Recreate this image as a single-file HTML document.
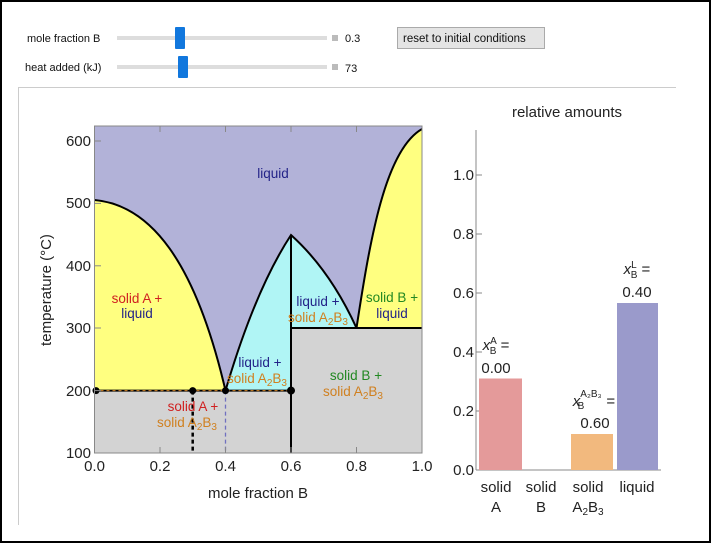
<!DOCTYPE html>
<html><head><style>
body{margin:0;background:#fff;}
svg text{font-family:"Liberation Sans",sans-serif;}
</style></head><body>
<svg width="711" height="543" xmlns="http://www.w3.org/2000/svg">
<rect x="1" y="1" width="709" height="541" fill="#fff" stroke="#000" stroke-width="2"/>
<text x="27" y="42" font-size="11" fill="#111">mole fraction B</text>
<rect x="117" y="36" width="210" height="4" fill="#ddd"/>
<rect x="175" y="27" width="10" height="22" fill="#1177dd" rx="1"/>
<rect x="332" y="35" width="6" height="6" fill="#bbb"/>
<text x="345" y="42" font-size="11" fill="#111">0.3</text>
<text x="25" y="71" font-size="11" fill="#111">heat added (kJ)</text>
<rect x="117" y="65" width="210" height="4" fill="#ddd"/>
<rect x="178" y="56" width="10" height="22" fill="#1177dd" rx="1"/>
<rect x="332" y="64" width="6" height="6" fill="#bbb"/>
<text x="345" y="72" font-size="11" fill="#111">73</text>
<rect x="397.5" y="27.5" width="147" height="21" fill="#e4e4e4" stroke="#aaa"/>
<text x="403" y="42" font-size="11.5" fill="#111">reset to initial conditions</text>
<path d="M18.5 525 V87.5 H676" fill="none" stroke="#ccc"/>
<g>
<rect x="94.5" y="126" width="327.5" height="327" fill="#b2b2d8"/>
<rect x="94.5" y="390.6" width="196.5" height="62.4" fill="#d3d3d3"/>
<rect x="291" y="328" width="131" height="125" fill="#d3d3d3"/>
<path d="M94.5 200 C150 205 195 260 225.5 390.6 H94.5 Z" fill="#ffff80"/>
<path d="M94.5 200 C150 205 195 260 225.5 390.6" fill="none" stroke="#000" stroke-width="2"/>
<path d="M225.5 390.6 Q255 290 291 235 V390.6 Z" fill="#b0f5f5"/>
<path d="M291 235 Q330 270 356.5 328 H291 Z" fill="#b0f5f5"/>
<path d="M225.5 390.6 Q255 290 291 235 Q330 270 356.5 328" fill="none" stroke="#000" stroke-width="2"/>
<path d="M356.5 328 C370 240 385 150 422 129 V328 Z" fill="#ffff80"/>
<path d="M356.5 328 C370 240 385 150 422 129" fill="none" stroke="#000" stroke-width="2"/>
<line x1="291" y1="235" x2="291" y2="453" stroke="#000" stroke-width="2"/>
<line x1="291" y1="328" x2="422" y2="328" stroke="#000" stroke-width="2"/>
<line x1="94.5" y1="390.6" x2="291" y2="390.6" stroke="#000" stroke-width="2"/>
<line x1="94.5" y1="390.6" x2="291" y2="390.6" stroke="#d08020" stroke-width="1" stroke-dasharray="3,3"/>
<line x1="192.7" y1="390.6" x2="192.7" y2="453" stroke="#000" stroke-width="2.5" stroke-dasharray="4,3"/>
<line x1="225.5" y1="390.6" x2="225.5" y2="453" stroke="#7070c0" stroke-width="1.3" stroke-dasharray="4,3"/>
<circle cx="96" cy="390.6" r="3.5"/><circle cx="192.7" cy="390.6" r="3.5"/><circle cx="225.5" cy="390.6" r="3.5"/><circle cx="291" cy="390.6" r="4"/>
<rect x="94.5" y="126" width="327.5" height="327" fill="none" stroke="#888"/>
<g stroke="#888">
<line x1="94.5" y1="141" x2="101" y2="141"/><line x1="94.5" y1="203.4" x2="101" y2="203.4"/><line x1="94.5" y1="265.8" x2="101" y2="265.8"/><line x1="94.5" y1="328" x2="101" y2="328"/><line x1="94.5" y1="390.6" x2="101" y2="390.6"/>
<line x1="160" y1="453" x2="160" y2="447"/><line x1="225.5" y1="453" x2="225.5" y2="447"/><line x1="291" y1="453" x2="291" y2="447"/><line x1="356.5" y1="453" x2="356.5" y2="447"/>
<line x1="160" y1="126" x2="160" y2="132"/><line x1="225.5" y1="126" x2="225.5" y2="132"/><line x1="291" y1="126" x2="291" y2="132"/><line x1="356.5" y1="126" x2="356.5" y2="132"/>
</g>
<g font-size="15" fill="#222" text-anchor="end">
<text x="91" y="146">600</text><text x="91" y="208">500</text><text x="91" y="271">400</text><text x="91" y="333">300</text><text x="91" y="396">200</text><text x="91" y="458">100</text>
</g>
<g font-size="15" fill="#222" text-anchor="middle">
<text x="94.5" y="471">0.0</text><text x="160" y="471">0.2</text><text x="225.5" y="471">0.4</text><text x="291" y="471">0.6</text><text x="356.5" y="471">0.8</text><text x="422" y="471">1.0</text>
<text x="258" y="498">mole fraction B</text>
</g>
<text transform="translate(51 290) rotate(-90)" font-size="15" fill="#222" text-anchor="middle">temperature (°C)</text>
<g font-size="13.5" text-anchor="middle">
<text x="273" y="178" fill="#222288">liquid</text>
<text x="137" y="303" fill="#d02020">solid A +</text><text x="137" y="318" fill="#222288">liquid</text>
<text x="318" y="306" fill="#222288">liquid +</text><text x="318" y="322" fill="#d08020">solid A<tspan font-size="10" dy="3">2</tspan><tspan dy="-3">B</tspan><tspan font-size="10" dy="3">3</tspan></text>
<text x="392" y="302" fill="#228822">solid B +</text><text x="392" y="318" fill="#222288">liquid</text>
<text x="260" y="367" fill="#222288">liquid +</text><text x="257" y="383" fill="#d08020">solid A<tspan font-size="10" dy="3">2</tspan><tspan dy="-3">B</tspan><tspan font-size="10" dy="3">3</tspan></text>
<text x="356" y="380" fill="#228822">solid B +</text><text x="353" y="396" fill="#d08020">solid A<tspan font-size="10" dy="3">2</tspan><tspan dy="-3">B</tspan><tspan font-size="10" dy="3">3</tspan></text>
<text x="193" y="411" fill="#d02020">solid A +</text><text x="187" y="427" fill="#d08020">solid A<tspan font-size="10" dy="3">2</tspan><tspan dy="-3">B</tspan><tspan font-size="10" dy="3">3</tspan></text>
</g>
</g>
<text x="567" y="117" font-size="15" fill="#222" text-anchor="middle">relative amounts</text>
<line x1="476" y1="130" x2="476" y2="470" stroke="#888"/>
<line x1="476" y1="470" x2="661" y2="470" stroke="#888"/>
<g stroke="#888">
<line x1="476" y1="175" x2="482" y2="175"/><line x1="476" y1="234" x2="482" y2="234"/><line x1="476" y1="293" x2="482" y2="293"/><line x1="476" y1="352" x2="482" y2="352"/><line x1="476" y1="411" x2="482" y2="411"/>
</g>
<g font-size="15" fill="#222" text-anchor="end">
<text x="474" y="180">1.0</text><text x="474" y="239">0.8</text><text x="474" y="298">0.6</text><text x="474" y="357">0.4</text><text x="474" y="416">0.2</text><text x="474" y="475">0.0</text>
</g>
<rect x="479" y="378.5" width="43" height="91.5" fill="#e49a9a"/>
<rect x="571" y="434" width="42" height="36" fill="#f2b97e"/>
<rect x="617" y="303" width="41" height="167" fill="#9a9acb"/>
<g font-size="15" fill="#222" text-anchor="middle">
<text x="496" y="350"><tspan font-style="italic">x</tspan><tspan font-size="10" dy="-6">A</tspan><tspan font-size="10" dy="10" dx="-7">B</tspan><tspan dy="-4"> =</tspan></text>
<text x="496" y="373">0.00</text>
<text x="594" y="406"><tspan font-style="italic">x</tspan><tspan font-size="10" dy="-9">A₂B₃</tspan><tspan font-size="10" dy="12" dx="-24">B</tspan><tspan dy="-3" dx="18"> =</tspan></text>
<text x="595" y="428">0.60</text>
<text x="637" y="274"><tspan font-style="italic">x</tspan><tspan font-size="10" dy="-6">L</tspan><tspan font-size="10" dy="10" dx="-6">B</tspan><tspan dy="-4"> =</tspan></text>
<text x="637" y="297">0.40</text>
<text x="496" y="492">solid</text><text x="496" y="512">A</text>
<text x="541" y="492">solid</text><text x="541" y="512">B</text>
<text x="588" y="492">solid</text><text x="588" y="512">A<tspan font-size="10" dy="3">2</tspan><tspan dy="-3">B</tspan><tspan font-size="10" dy="3">3</tspan></text>
<text x="637" y="492">liquid</text>
</g>
</svg>
</body></html>
